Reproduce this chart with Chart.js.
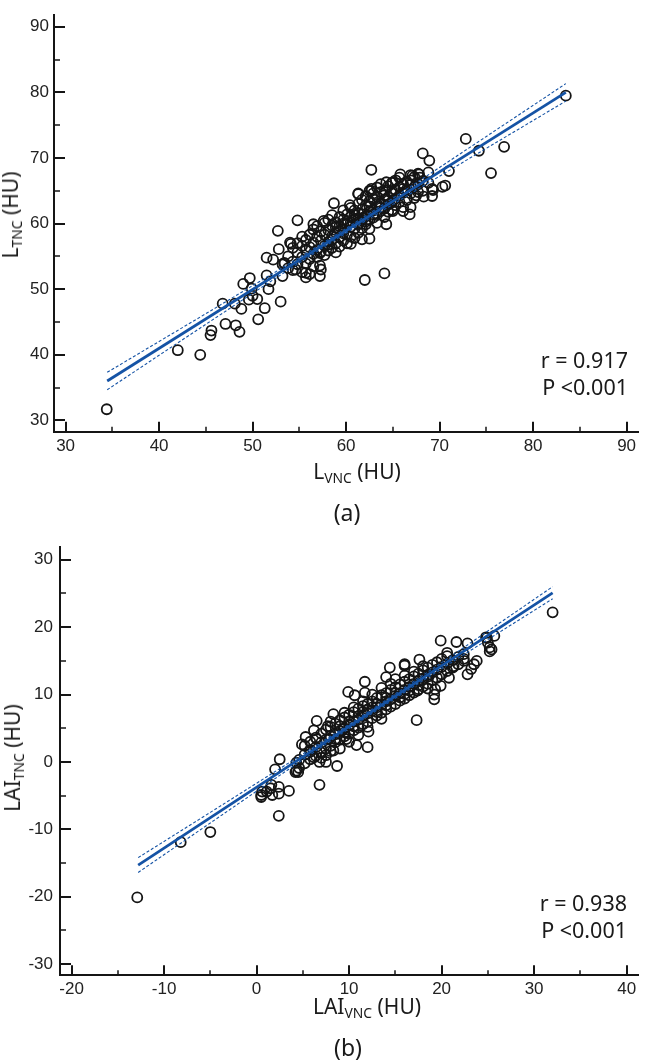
<!DOCTYPE html>
<html>
<head>
<meta charset="utf-8">
<script src="https://cdn.jsdelivr.net/npm/chart.js@4.4.1/dist/chart.umd.min.js"></script>
<style>
    body { margin: 0; width: 645px; height: 1063px; position: relative; background: #fff; overflow: hidden; }
    .panel { position: absolute; left: 0; }
    .lbl { position: absolute; font-family: "Noto Sans", sans-serif; color: #1a1a1a; white-space: nowrap; line-height: 1; }
    .lbl sub { font-size: 0.66em; vertical-align: -0.3em; }
    .ytitle { transform: translate(-50%, -50%) rotate(-90deg); }
    .center { transform: translate(-50%, -50%); }
    .stats { text-align: right; line-height: 27px; }
</style>
</head>
<body>
<div class="panel" style="top:0;"><canvas id="chartA" width="645" height="490"></canvas></div>
<div class="panel" style="top:530px;"><canvas id="chartB" width="645" height="500"></canvas></div>

<div class="lbl ytitle" style="left:12px; top:215px; font-size:21px;">L<sub>TNC</sub> (HU)</div>
<div class="lbl center" style="left:357px; top:473px; font-size:21px;">L<sub>VNC</sub> (HU)</div>
<div class="lbl center" style="left:347px; top:512px; font-size:23px;">(a)</div>
<div class="lbl stats" style="right:17px; top:346px; font-size:21.5px;">r = 0.917<br>P &lt;0.001</div>

<div class="lbl ytitle" style="left:14px; top:758px; font-size:21px;">LAI<sub>TNC</sub> (HU)</div>
<div class="lbl center" style="left:367px; top:1008px; font-size:21px;">LAI<sub>VNC</sub> (HU)</div>
<div class="lbl center" style="left:348px; top:1047px; font-size:23px;">(b)</div>
<div class="lbl stats" style="right:18px; top:889px; font-size:21.5px;">r = 0.938<br>P &lt;0.001</div>

<script>
// ===== DATOS (a): L VNC vs L TNC =====
const rangeXA = [28.76, 91.24];
const rangeYA = [28.28, 91.76];
const pointsA = [
    [34.4,31.7],[42.0,40.7],[44.4,40.0],[45.5,43.0],[45.6,43.7],[47.1,44.7],[46.8,47.8],[48.2,44.5],[48.6,43.5],
    [48.1,47.8],[48.8,47.0],[49.0,50.8],[49.7,51.7],[49.6,48.4],[49.9,50.1],[50.0,49.0],[50.5,48.5],[50.6,45.4],
    [51.3,47.1],[51.7,50.0],[51.5,52.1],[51.9,51.2],[51.5,54.8],[52.2,54.5],[53.0,48.1],[52.8,56.1],[53.4,54.0],
    [54.1,56.9],[54.6,53.0],[55.7,51.8],[55.7,52.5],[57.2,52.0],[57.2,53.6],[57.2,55.5],
    [62.7,68.2],[62.0,51.4],[64.1,52.4],[52.7,58.9],[54.8,60.5],[53.4,53.9],[54.0,57.1],[56.5,59.9],[57.6,60.4],
    [58.7,63.1],[60.4,62.8],[61.3,64.6],[61.8,60.9],[62.7,65.0],[62.5,57.7],
    [72.8,72.9],[74.2,71.1],[76.9,71.7],[75.5,67.7],[68.2,70.7],[68.9,69.6],[71.0,68.0],[65.8,67.5],[70.6,65.8],
    [70.3,65.6],[69.2,65.3],[68.3,64.1],[67.8,67.5],[67.9,67.0],[67.1,67.3],[66.8,61.4],[66.1,61.9],[67.5,64.3],
    [62.7,65.3],[64.3,66.3],[65.0,66.3],[61.3,64.5],[64.3,59.9],[65.0,61.9],[83.5,79.5],[69.3,65.1],[69.2,64.2],[66.9,62.5],
    [53.2,53.8],[53.2,52.0],[53.8,55.0],[53.8,53.2],[54.3,54.2],[54.3,56.3],[54.3,52.9],[54.8,55.6],[54.8,53.8],[54.8,57.0],
    [55.3,54.9],[55.3,56.6],[55.3,52.6],[55.3,58.0],[55.7,55.9],[55.7,53.9],[55.7,57.5],[56.1,56.4],[56.1,54.6],[56.1,58.3],
    [56.1,52.3],[56.5,55.4],[56.5,57.1],[56.5,59.1],[56.5,53.5],[56.9,56.0],[56.9,58.0],[56.9,54.9],[56.9,59.6],
    [57.3,57.4],[57.3,55.7],[57.3,58.8],[57.3,53.0],[57.7,56.6],[57.7,58.3],[57.7,60.1],[57.7,55.2],
    [58.1,57.2],[58.1,59.0],[58.1,55.9],[58.1,60.6],[58.1,56.8],[58.5,58.1],[58.5,56.3],[58.5,59.7],[58.5,61.3],[58.5,57.6],
    [58.9,58.6],[58.9,57.0],[58.9,60.2],[58.9,55.6],[58.9,59.4],[59.3,57.9],[59.3,59.6],[59.3,61.0],[59.3,56.5],[59.3,58.9],
    [59.7,59.1],[59.7,57.4],[59.7,60.6],[59.7,62.0],[59.7,58.5],[59.7,60.0],[60.1,58.3],[60.1,59.9],[60.1,61.4],[60.1,57.0],[60.1,60.4],
    [60.5,59.5],[60.5,61.1],[60.5,58.0],[60.5,62.4],[60.5,60.2],[60.5,56.9],[60.9,60.7],[60.9,59.2],[60.9,62.0],[60.9,57.8],[60.9,61.3],
    [61.3,59.9],[61.3,61.6],[61.3,63.0],[61.3,58.6],[61.3,60.8],[61.7,60.5],[61.7,62.2],[61.7,59.3],[61.7,63.6],[61.7,61.4],[61.7,57.6],
    [62.1,61.1],[62.1,62.8],[62.1,59.9],[62.1,64.2],[62.1,60.3],[62.5,61.8],[62.5,60.6],[62.5,63.4],[62.5,59.2],[62.5,62.6],[62.5,65.0],
    [62.9,62.0],[62.9,63.7],[62.9,60.9],[62.9,64.6],[62.9,61.4],[63.3,62.6],[63.3,61.3],[63.3,64.1],[63.3,63.0],[63.3,60.1],[63.3,65.5],
    [63.7,63.1],[63.7,61.9],[63.7,64.8],[63.7,62.4],[63.7,66.0],[64.1,63.7],[64.1,62.3],[64.1,65.1],[64.1,61.0],[64.1,64.3],
    [64.5,64.0],[64.5,62.9],[64.5,65.7],[64.5,63.5],[64.5,61.8],[64.9,64.6],[64.9,63.2],[64.9,66.2],[64.9,62.1],[64.9,65.0],
    [65.3,65.1],[65.3,63.8],[65.3,66.6],[65.3,62.8],[65.7,65.6],[65.7,64.3],[65.7,63.3],[65.7,67.0],
    [66.1,66.0],[66.1,64.7],[66.1,62.5],[66.1,65.3],[66.5,66.4],[66.5,65.2],[66.5,63.6],
    [66.9,66.6],[66.9,64.6],[66.9,65.9],[66.9,67.4],[67.3,67.1],[67.3,65.6],[67.3,63.9],
    [67.7,66.0],[67.7,64.8],[67.7,67.6],[68.2,66.5],[68.2,65.0],[68.8,67.8],[68.8,66.2]
];
const fitXA = [34.45, 83.5];
const fitYA = [36.0, 80.0];
const ciXA = [34.45, 40, 45, 50, 55, 60, 65, 70, 75, 83.5];
const ciUpperA = [37.33, 42.03, 46.27, 50.54, 54.84, 59.27, 63.87, 68.56, 73.28, 81.33];
const ciLowerA = [34.67, 39.93, 44.65, 49.37, 54.02, 58.57, 62.93, 67.22, 71.47, 78.67];

// ===== DATOS (b): LAI VNC vs LAI TNC =====
const rangeXB = [-21.25, 41.25];
const rangeYB = [-31.66, 31.87];
const pointsB = [
    [-12.9,-20.1],[-8.2,-11.9],[-5.0,-10.4],[2.4,-8.0],[3.5,-4.3],[6.8,-3.4],[2.0,-1.1],[0.5,-5.2],[0.6,-4.4],[1.6,-3.4],
    [1.7,-4.9],[2.4,-3.7],[2.4,-4.7],[1.1,-4.4],[4.2,-1.5],[4.3,-1.3],[0.5,-4.9],[1.5,-3.9],[2.5,0.4],[4.3,-0.1],
    [4.5,-1.5],[4.9,2.6],[5.3,3.7],[5.8,1.5],[6.5,6.1],[6.2,4.7],[6.2,0.7],[6.9,1.5],[7.5,0.0],[6.8,0.0],
    [8.7,-0.6],[8.3,1.7],[7.8,3.4],[6.5,3.4],[7.7,5.3],[8.3,7.1],[9.9,10.4],[10.6,9.9],[11.7,11.9],[11.7,10.3],
    [12.0,2.2],[10.8,2.5],[12.1,4.5],[9.7,3.4],[9.4,4.9],[14.4,14.0],[16.0,14.3],[17.3,6.2],[14.0,12.6],
    [32.0,22.2],[19.9,18.0],[21.6,17.8],[22.8,17.6],[24.8,18.5],[25.7,18.7],[25.0,17.7],[25.2,17.0],[25.2,16.4],
    [23.8,15.0],[23.2,13.8],[22.8,13.0],[23.5,14.5],[22.4,15.0],[21.3,14.2],[20.6,16.2],[20.8,12.5],[19.2,9.3],
    [19.2,10.0],[19.9,11.3],[19.3,10.8],[18.5,10.9],[18.6,12.7],[17.6,15.2],[16.0,14.5],[17.4,10.6],[24.9,18.4],[25.4,16.7],
    [4.6,0.3],[4.6,-0.9],[5.2,1.1],[5.2,-0.2],[5.2,2.4],[5.8,1.8],[5.8,0.4],[5.8,3.0],[6.4,2.2],[6.4,0.9],[6.4,3.6],
    [7.0,2.9],[7.0,1.4],[7.0,4.2],[7.0,0.6],[7.5,3.3],[7.5,2.0],[7.5,4.8],[7.5,1.0],
    [8.0,3.8],[8.0,2.4],[8.0,5.2],[8.0,1.6],[8.0,6.0],[8.5,4.1],[8.5,2.9],[8.5,5.7],[8.5,3.4],
    [9.0,4.6],[9.0,3.3],[9.0,6.2],[9.0,2.0],[9.0,5.3],[9.5,5.0],[9.5,3.8],[9.5,6.6],[9.5,4.4],[9.5,7.3],
    [10.0,5.5],[10.0,4.2],[10.0,7.0],[10.0,3.0],[10.0,6.0],[10.5,6.0],[10.5,4.7],[10.5,7.4],[10.5,5.3],[10.5,8.1],
    [11.0,6.3],[11.0,5.1],[11.0,7.9],[11.0,4.0],[11.0,6.8],[11.5,6.8],[11.5,5.6],[11.5,8.3],[11.5,7.4],[11.5,9.0],
    [12.0,7.2],[12.0,6.0],[12.0,8.6],[12.0,5.2],[12.0,7.8],[12.5,7.6],[12.5,6.5],[12.5,9.0],[12.5,8.1],[12.5,10.0],
    [13.0,8.1],[13.0,6.9],[13.0,9.5],[13.0,7.4],[13.0,8.6],[13.5,8.5],[13.5,7.3],[13.5,9.9],[13.5,6.4],[13.5,11.0],
    [14.0,9.0],[14.0,7.8],[14.0,10.2],[14.0,8.4],[14.0,9.5],[14.5,9.3],[14.5,8.2],[14.5,10.7],[14.5,11.6],
    [15.0,9.8],[15.0,8.6],[15.0,11.1],[15.0,10.2],[15.0,12.3],[15.5,10.2],[15.5,9.1],[15.5,11.5],[15.5,9.6],
    [16.0,10.7],[16.0,9.4],[16.0,11.9],[16.0,12.8],[16.0,10.1],[16.5,11.1],[16.5,9.9],[16.5,12.3],[16.5,10.6],
    [17.0,11.6],[17.0,10.3],[17.0,12.7],[17.0,13.4],[17.5,12.0],[17.5,10.8],[17.5,13.1],[17.5,11.4],
    [18.0,12.4],[18.0,11.2],[18.0,13.6],[18.0,14.2],[18.5,12.9],[18.5,11.6],[18.5,14.0],
    [19.0,13.3],[19.0,12.1],[19.0,14.4],[19.5,13.7],[19.5,12.5],[19.5,14.8],[20.0,14.1],[20.0,13.0],[20.0,15.3],
    [20.6,14.6],[20.6,13.5],[20.6,15.7],[21.2,15.1],[21.2,14.0],[21.8,15.6],[21.8,14.5],[22.4,16.0],[22.4,15.3]
];
const fitXB = [-12.8, 32.0];
const fitYB = [-15.3, 25.1];
const ciXB = [-12.8, -5, 0, 5, 10, 15, 20, 25, 32];
const ciUpperB = [-14.2, -7.48, -3.16, 1.18, 5.58, 10.11, 14.74, 19.43, 26.01];
const ciLowerB = [-16.4, -9.05, -4.34, 0.34, 4.96, 9.45, 13.84, 18.17, 24.21];

const BLUE = '#1553a5';
const INK = '#151515';

// ===== MARCAS DE EJE (hacia dentro) =====
const inwardTicks = {
    id: 'inwardTicks',
    afterDraw(chart) {
        const ctx = chart.ctx;
        const xs = chart.scales.x, ys = chart.scales.y;
        const area = chart.chartArea;
        ctx.save();
        ctx.strokeStyle = INK;
        for (let v = Math.ceil(xs.min / 5) * 5; v <= xs.max; v += 5) {
            const px = Math.round(xs.getPixelForValue(v));
            const major = v % 10 === 0;
            ctx.lineWidth = major ? 2 : 1.5;
            ctx.beginPath();
            ctx.moveTo(px, area.bottom);
            ctx.lineTo(px, area.bottom - (major ? 10 : 5));
            ctx.stroke();
        }
        for (let v = Math.ceil(ys.min / 5) * 5; v <= ys.max; v += 5) {
            const py = Math.round(ys.getPixelForValue(v));
            const major = v % 10 === 0;
            ctx.lineWidth = major ? 2 : 1.5;
            ctx.beginPath();
            ctx.moveTo(area.left, py);
            ctx.lineTo(area.left + (major ? 11 : 6), py);
            ctx.stroke();
        }
        ctx.restore();
    }
};

function toXY(xs, ys) {
    return xs.map((x, i) => ({ x: x, y: ys[i] }));
}

function buildChart(id, cfg) {
    const lineBase = { type: 'line', pointRadius: 0, fill: false, borderColor: BLUE, cubicInterpolationMode: 'monotone' };
    return new Chart(document.getElementById(id), {
        type: 'scatter',
        data: {
            datasets: [
                { ...lineBase, data: toXY(cfg.fitX, cfg.fitY), borderWidth: 2.8, order: 1 },
                { ...lineBase, data: toXY(cfg.ciX, cfg.ciUp), borderWidth: 1.1, borderDash: [3, 2], order: 2 },
                { ...lineBase, data: toXY(cfg.ciX, cfg.ciLo), borderWidth: 1.1, borderDash: [3, 2], order: 3 },
                {
                    data: cfg.points.map(p => ({ x: p[0], y: p[1] })),
                    pointRadius: 5,
                    pointBorderWidth: 1.8,
                    pointBorderColor: INK,
                    pointBackgroundColor: 'rgba(0,0,0,0)',
                    order: 4
                }
            ]
        },
        options: {
            responsive: false,
            animation: false,
            layout: { padding: { top: cfg.padTop, right: 0, bottom: 0, left: 0 } },
            plugins: { legend: { display: false }, tooltip: { enabled: false } },
            scales: {
                x: {
                    type: 'linear',
                    min: cfg.rangeX[0],
                    max: cfg.rangeX[1],
                    grid: { display: false, drawTicks: false },
                    border: { color: INK, width: 2 },
                    ticks: {
                        stepSize: 10,
                        includeBounds: false,
                        maxRotation: 0,
                        padding: 4,
                        color: '#222',
                        font: { family: 'Liberation Sans', size: 17 }
                    },
                    afterFit: s => { s.height = cfg.xHeight; }
                },
                y: {
                    type: 'linear',
                    min: cfg.rangeY[0],
                    max: cfg.rangeY[1],
                    grid: { display: false, drawTicks: false },
                    border: { color: INK, width: 2 },
                    ticks: {
                        stepSize: 10,
                        includeBounds: false,
                        padding: cfg.yPad,
                        color: '#222',
                        font: { family: 'Liberation Sans', size: 17 }
                    },
                    afterFit: s => { s.width = cfg.yWidth; }
                }
            }
        },
        plugins: [inwardTicks]
    });
}

buildChart('chartA', {
    points: pointsA, fitX: fitXA, fitY: fitYA, ciX: ciXA, ciUp: ciUpperA, ciLo: ciLowerA,
    rangeX: rangeXA, rangeY: rangeYA, padTop: 0, xHeight: 58.3, yWidth: 54, yPad: 5
});

buildChart('chartB', {
    points: pointsB, fitX: fitXB, fitY: fitYB, ciX: ciXB, ciUp: ciUpperB, ciLo: ciLowerB,
    rangeX: rangeXB, rangeY: rangeYB, padTop: 13.3, xHeight: 54.7, yWidth: 60, yPad: 7
});
</script>
</body>
</html>
